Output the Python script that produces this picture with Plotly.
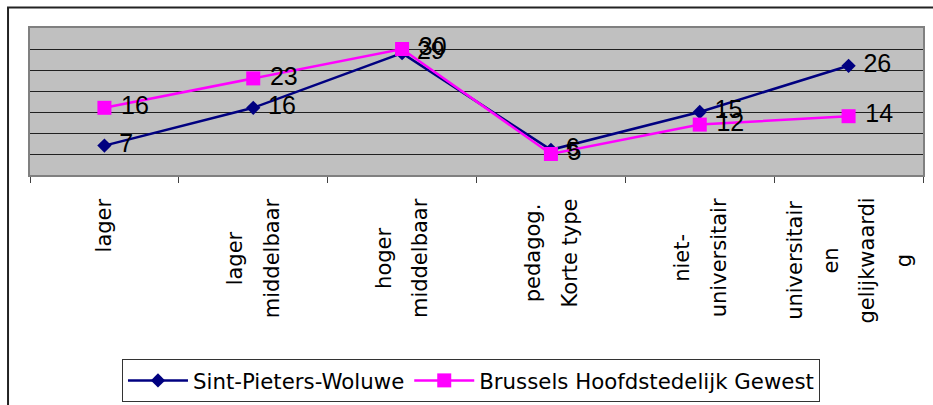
import plotly.graph_objects as go

categories = ["lager", "lager middelbaar", "hoger middelbaar", "pedagog. Korte type",
              "niet-universitair", "universitair en gelijkwaardig"]
tick_labels = ["lager", "lager<br>middelbaar", "hoger<br>middelbaar", "pedagog.<br>Korte type",
               "niet-<br>universitair", "universitair<br>en<br>gelijkwaardi<br>g"]
woluwe = [7, 16, 29, 6, 15, 26]
brussel = [16, 23, 30, 5, 12, 14]
series_names = ["Sint-Pieters-Woluwe", "Brussels Hoofdstedelijk Gewest"]

fig = go.Figure()
fig.add_trace(go.Scatter(
    x=categories, y=woluwe, name=series_names[0], mode="lines+markers+text",
    line=dict(color="#000080", width=2.5),
    marker=dict(symbol="diamond", size=11, color="#000080"),
    texttemplate=" %{y}", textposition="middle right",
    textfont=dict(family="Liberation Sans, Arial", size=25, color="black"),
    cliponaxis=False,
))
fig.add_trace(go.Scatter(
    x=categories, y=brussel, name=series_names[1], mode="lines+markers+text",
    line=dict(color="#FF00FF", width=2.5),
    marker=dict(symbol="square", size=14, color="#FF00FF"),
    texttemplate=" %{y}", textposition="middle right",
    textfont=dict(family="Liberation Sans, Arial", size=25, color="black"),
    cliponaxis=False,
))

for cat, lab in zip(categories, tick_labels):
    fig.add_annotation(
        x=cat, xref="x", y=0, yref="paper", yshift=-21,
        text='<span style="font-size:21px">' + lab + '</span>',
        textangle=-90, showarrow=False, xanchor="center", yanchor="top", align="center",
        font=dict(family="DejaVu Sans", size=28, color="black"),
    )

fig.add_shape(type="rect", xref="paper", yref="paper",
              x0=-0.0246, x1=1.03, y0=-1.7, y1=1.139,
              line=dict(color="#222222", width=2), layer="below")

fig.update_xaxes(
    type="category", range=[-0.5, len(categories) - 0.5],
    showticklabels=False, ticks="outside", tickson="boundaries",
    ticklen=6, tickcolor="#404040", tickwidth=1,
    showline=True, linecolor="#808080", linewidth=2, mirror=True, showgrid=False,
)
fig.update_yaxes(
    range=[0, 35], dtick=5, showticklabels=False, showgrid=True, gridcolor="#202020",
    gridwidth=1, zeroline=False, showline=True, linecolor="#808080", linewidth=2, mirror=True,
)
fig.update_layout(
    width=933, height=405, margin=dict(l=30, r=10, t=28, b=230, autoexpand=False),
    plot_bgcolor="#C0C0C0", paper_bgcolor="white",
    showlegend=True,
    legend=dict(orientation="h", x=0.103, xanchor="left", y=-1.252, yanchor="top",
                bordercolor="#333333", borderwidth=1, bgcolor="white", itemwidth=60,
                font=dict(family="DejaVu Sans", size=21.3, color="black")),
)
fig.write_html("out.html", config={"displayModeBar": False},
               post_script="document.body.style.margin='0';document.body.style.overflow='hidden';")
